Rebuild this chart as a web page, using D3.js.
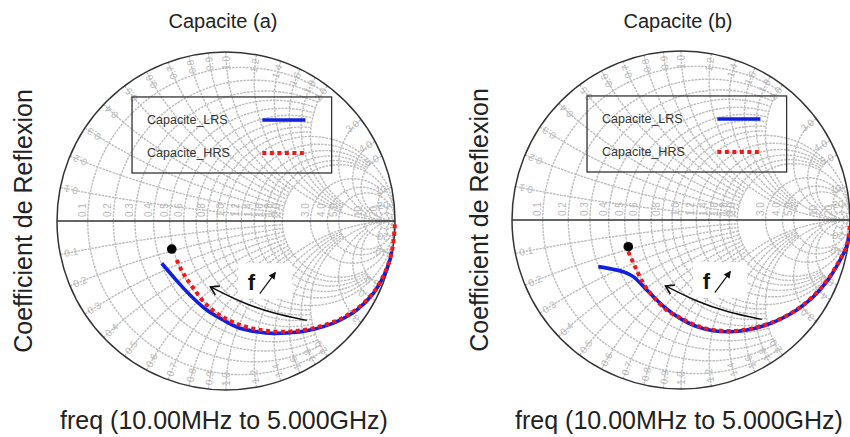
<!DOCTYPE html>
<html>
<head>
<meta charset="utf-8">
<script src="https://cdn.jsdelivr.net/npm/d3@7"></script>
<style>
  body { margin: 0; background: #fff; }
  svg { display: block; font-family: "Liberation Sans", Arial, sans-serif; }
</style>
</head>
<body>
<svg width="850" height="437"></svg>
<script>
// grid of the smith chart (normalised r and x values, with the limit of each segment)
var rGrid    = [0.1, 0.2, 0.3, 0.4, 0.5, 0.6, 0.7, 0.8, 0.9, 1.0, 1.2, 1.4, 1.6, 1.8, 2.0, 3.0, 4.0, 5.0, 10, 20, 50];
var rGridMax = [2, 2, 2, 2, 2, 2, 2, 2, 2, Infinity, 5, 5, 5, 5, Infinity, 10, 10, Infinity, 20, 50, Infinity];
var xGrid    = [0.1, 0.2, 0.3, 0.4, 0.5, 0.6, 0.7, 0.8, 0.9, 1.0, 1.2, 1.4, 1.6, 1.8, 2.0, 3.0, 4.0, 5.0, 10, 20, 50];
var xGridMax = [2, 2, 2, 2, 2, 2, 2, 2, 2, Infinity, 5, 5, 5, 5, Infinity, 10, 10, Infinity, 20, 50, Infinity];

// tick labels
var rLabels = ["0.1", "0.2", "0.3", "0.4", "0.5", "0.6", "0.8", "1.0", "1.2", "1.4", "1.6", "1.8", "2.0", "3.0", "4.0", "5.0", "10", "20"];
var xLabels = ["0.1", "0.2", "0.3", "0.4", "0.5", "0.6", "0.7", "0.8", "0.9", "1.0", "1.2", "1.4", "1.6", "1.8", "2.0", "3.0", "4.0", "5.0", "10", "20"];

var seriesNames = ["Capacite_LRS", "Capacite_HRS"];
var titles = ["Capacite (a)", "Capacite (b)"];
var yTitle = "Coefficient de Reflexion";
var xTitle = "freq (10.00MHz to 5.000GHz)";

// S11 traces, as reflection coefficient [re, im]
var lrsA = [[-0.380,-0.250],[-0.312,-0.330],[-0.213,-0.438],[-0.114,-0.527],[-0.016,-0.586],[0.083,-0.635],
            [0.182,-0.655],[0.280,-0.665],[0.379,-0.661],[0.478,-0.649],[0.576,-0.625],[0.675,-0.586],
            [0.773,-0.527],[0.872,-0.428],[0.931,-0.330],[0.970,-0.231],[0.980,-0.180]];
var hrsA = [[-0.292,-0.231],[-0.253,-0.309],[-0.193,-0.398],[-0.114,-0.497],[-0.016,-0.570],[0.083,-0.615],
            [0.182,-0.641],[0.280,-0.654],[0.379,-0.654],[0.478,-0.642],[0.576,-0.618],[0.675,-0.580],
            [0.773,-0.521],[0.872,-0.423],[0.931,-0.325],[0.970,-0.225],[0.990,-0.131],[0.997,-0.053],[0.999,-0.020]];
var lrsB = [[-0.489,-0.276],[-0.401,-0.292],[-0.341,-0.306],[-0.282,-0.335],[-0.203,-0.414],[-0.105,-0.509],
            [-0.006,-0.582],[0.093,-0.631],[0.191,-0.655],[0.290,-0.661],[0.389,-0.651],[0.487,-0.627],
            [0.586,-0.588],[0.685,-0.533],[0.783,-0.454],[0.862,-0.365],[0.931,-0.256],[0.980,-0.158],[0.992,-0.100]];
var hrsB = [[-0.312,-0.188],[-0.272,-0.276],[-0.223,-0.375],[-0.164,-0.454],[-0.085,-0.533],[-0.006,-0.578],
            [0.093,-0.626],[0.191,-0.650],[0.290,-0.657],[0.389,-0.648],[0.487,-0.624],[0.586,-0.586],
            [0.685,-0.530],[0.783,-0.450],[0.862,-0.361],[0.931,-0.251],[0.980,-0.154],[0.994,-0.083],[0.999,-0.030]];
var dotA = [-0.321, -0.166];
var dotB = [-0.312, -0.158];

// frequency arrow (annotation), in reflection coefficient units
var freqArrow = [[0.478,-0.588],[0.280,-0.548],[0.085,-0.480],[-0.092,-0.390]];

var svg = d3.select("svg");

var panels = [
  {cx: 226, cy: 221, R: 169, title: titles[0], lrs: lrsA, hrs: hrsA, dot: dotA, yLabX: 32},
  {cx: 681, cy: 220, R: 169, title: titles[1], lrs: lrsB, hrs: hrsB, dot: dotB, yLabX: 488}
];

svg.append("defs").append("marker")
    .attr("id", "chev")
    .attr("viewBox", "-10 -6 12 12")
    .attr("markerWidth", 12).attr("markerHeight", 12)
    .attr("markerUnits", "userSpaceOnUse")
    .attr("orient", "auto")
  .append("path")
    .attr("d", "M-8,-5L0,0L-8,5")
    .attr("fill", "none").attr("stroke", "#111").attr("stroke-width", 1.6);

svg.select("defs").append("marker")
    .attr("id", "tri")
    .attr("viewBox", "-8 -5 10 10")
    .attr("markerWidth", 9).attr("markerHeight", 9)
    .attr("markerUnits", "userSpaceOnUse")
    .attr("orient", "auto")
  .append("path")
    .attr("d", "M-7,-4L1,0L-7,4Z")
    .attr("fill", "#111");

function gammaOf(r, x) {
  // (z-1)/(z+1)
  var den = (r + 1) * (r + 1) + x * x;
  return [((r * r + x * x) - 1) / den, (2 * x) / den];
}

panels.forEach(function(p, i) {
  var g = svg.append("g");
  var sx = d3.scaleLinear().domain([-1, 1]).range([p.cx - p.R, p.cx + p.R]);
  var sy = d3.scaleLinear().domain([-1, 1]).range([p.cy + p.R, p.cy - p.R]);
  var line = d3.line().x(function(d) { return sx(d[0]); }).y(function(d) { return sy(d[1]); });

  g.append("clipPath").attr("id", "clip" + i)
    .append("circle").attr("cx", p.cx).attr("cy", p.cy).attr("r", p.R);

  var grid = g.append("g").attr("clip-path", "url(#clip" + i + ")")
      .attr("fill", "none").attr("stroke", "#bdbdbd")
      .attr("stroke-width", 1.4).attr("stroke-dasharray", "2.5,1");

  // resistance circles
  rGrid.forEach(function(r, k) {
    var pm = Math.atan(rGridMax[k]) * 0.9995;
    var pts = d3.range(-pm, pm + 1e-9, pm / 120).map(function(t) { return gammaOf(r, Math.tan(t)); });
    grid.append("path").attr("d", line(pts));
  });
  // reactance arcs
  xGrid.forEach(function(x, k) {
    var pm = Math.atan(xGridMax[k]) * 0.9995;
    [1, -1].forEach(function(s) {
      var pts = d3.range(0, pm + 1e-9, pm / 120).map(function(t) { return gammaOf(Math.tan(t), s * x); });
      grid.append("path").attr("d", line(pts));
    });
  });

  // grid labels
  var lab = g.append("g").attr("fill", "#b8b8b8").attr("font-size", 10);
  rLabels.forEach(function(t) {
    var gm = gammaOf(+t, 0);
    lab.append("text")
      .attr("transform", "translate(" + (sx(gm[0]) - 2) + "," + (p.cy - 4) + ") rotate(-90)")
      .text(t);
  });
  xLabels.forEach(function(t) {
    [1, -1].forEach(function(s) {
      var gm = gammaOf(0, s * (+t));
      var px = sx(gm[0] * 0.935), py = sy(gm[1] * 0.935);
      var ang = Math.atan2(p.cy - py, p.cx - px) * 180 / Math.PI;
      if (s > 0) ang += 180;
      lab.append("text")
        .attr("transform", "translate(" + px + "," + py + ") rotate(" + ang + ")")
        .attr("text-anchor", "middle").attr("dy", "0.35em")
        .text(t);
    });
  });

  // outer circle and real axis
  g.append("circle").attr("cx", p.cx).attr("cy", p.cy).attr("r", p.R)
    .attr("fill", "none").attr("stroke", "#333").attr("stroke-width", 1.5);
  g.append("line")
    .attr("x1", sx(-1)).attr("x2", sx(1)).attr("y1", sy(0)).attr("y2", sy(0))
    .attr("stroke", "#333").attr("stroke-width", 1.5);

  // traces
  var curve = d3.line().curve(d3.curveCatmullRom)
      .x(function(d) { return sx(d[0]); }).y(function(d) { return sy(d[1]); });
  g.append("path").attr("d", curve(p.lrs))
    .attr("fill", "none").attr("stroke", "#1020e0").attr("stroke-width", 3.6);
  g.append("path").attr("d", curve(p.hrs))
    .attr("fill", "none").attr("stroke", "#f01818").attr("stroke-width", 4)
    .attr("stroke-dasharray", "4,3.5");
  g.append("circle").attr("cx", sx(p.dot[0])).attr("cy", sy(p.dot[1])).attr("r", 4.8).attr("fill", "#000");

  // frequency annotation
  g.append("path").attr("d", d3.line().curve(d3.curveBasis)
        .x(function(d) { return sx(d[0]); }).y(function(d) { return sy(d[1]); })(freqArrow))
    .attr("fill", "none").attr("stroke", "#111").attr("stroke-width", 1.5)
    .attr("marker-end", "url(#chev)");
  g.append("rect")
    .attr("x", sx(0.071)).attr("y", sy(-0.25))
    .attr("width", sx(0.391) - sx(0.071)).attr("height", sy(-0.46) - sy(-0.25))
    .attr("fill", "#fff");
  g.append("text").attr("x", sx(0.128)).attr("y", sy(-0.41))
    .attr("font-size", 22).attr("font-weight", "bold").attr("fill", "#111").text("f");
  g.append("line")
    .attr("x1", sx(0.2)).attr("y1", sy(-0.43)).attr("x2", sx(0.292)).attr("y2", sy(-0.305))
    .attr("stroke", "#111").attr("stroke-width", 1.2).attr("marker-end", "url(#tri)");

  // legend
  g.append("rect")
    .attr("x", sx(-0.556)).attr("y", sy(0.734))
    .attr("width", sx(0.625) - sx(-0.556)).attr("height", sy(0.284) - sy(0.734))
    .attr("fill", "none").attr("stroke", "#333").attr("stroke-width", 1.3);
  var rows = [0.598, 0.402];
  seriesNames.forEach(function(name, k) {
    g.append("text").attr("x", sx(-0.467)).attr("y", sy(rows[k])).attr("dy", "0.35em")
      .attr("font-size", 12.5).attr("fill", "#333").text(name);
    g.append("line")
      .attr("x1", sx(0.215)).attr("x2", sx(0.47)).attr("y1", sy(rows[k])).attr("y2", sy(rows[k]))
      .attr("stroke", k === 0 ? "#1020e0" : "#f01818")
      .attr("stroke-width", k === 0 ? 3.6 : 4)
      .attr("stroke-dasharray", k === 0 ? null : "4,3.5");
  });

  // titles
  svg.append("text").attr("x", p.cx - 3).attr("y", 28).attr("text-anchor", "middle")
    .attr("font-size", 20).attr("fill", "#222").text(p.title);
  svg.append("text")
    .attr("transform", "translate(" + p.yLabX + "," + p.cy + ") rotate(-90)")
    .attr("text-anchor", "middle").attr("font-size", 25).attr("fill", "#222").text(yTitle);
  svg.append("text").attr("x", p.cx - 2).attr("y", 429).attr("text-anchor", "middle")
    .attr("font-size", 25).attr("fill", "#222").text(xTitle);
});
</script>
</body>
</html>
